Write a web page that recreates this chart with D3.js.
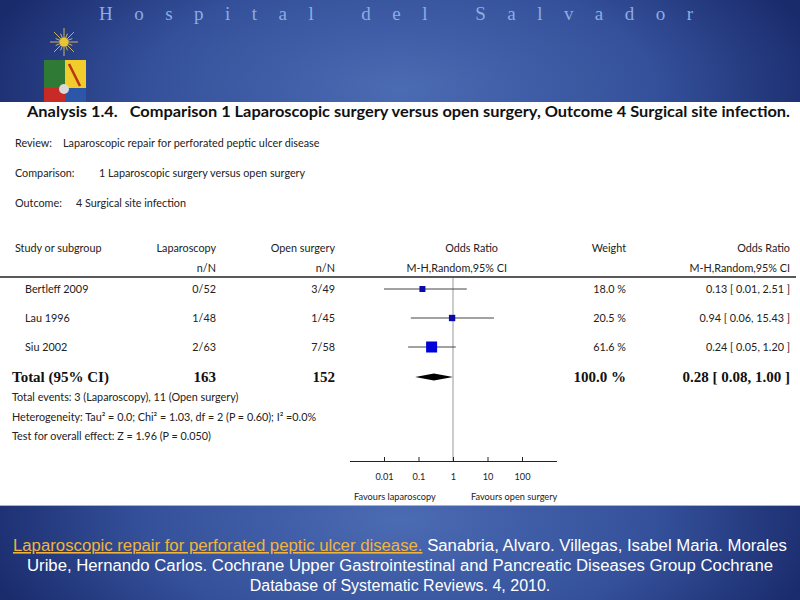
<!DOCTYPE html>
<html>
<head>
<meta charset="utf-8">
<script src="https://cdn.jsdelivr.net/npm/d3@7"></script>
<style>
body{margin:0;background:#fff}
svg{display:block}
.gs{font-family:Lato,"Open Sans",sans-serif;fill:#222}
.bold{font-family:"Liberation Serif","DejaVu Serif",serif;font-weight:bold;fill:#111}
</style>
</head>
<body>
<div id="chart"></div>
<script>
// data
var studies = ["Bertleff 2009","Lau 1996","Siu 2002"],
	lapEvents = ["0/52","1/48","2/63"],
	openEvents = ["3/49","1/45","7/58"],
	oddsRatio = [0.13,0.94,0.24],
	ciLow = [0.01,0.06,0.05],
	ciHigh = [2.51,15.43,1.20],
	weights = [18.0,20.5,61.6];

var total = {label:"Total (95% CI)", lap:"163", open:"152", weight:"100.0 %", or:0.28, lo:0.08, hi:1.00};
var tickVals = [0.01,0.1,1,10,100];
var notes = [
	"Total events: 3 (Laparoscopy), 11 (Open surgery)",
	"Heterogeneity: Tau\u00b2 = 0.0; Chi\u00b2 = 1.03, df = 2 (P = 0.60); I\u00b2 =0.0%",
	"Test for overall effect: Z = 1.96 (P = 0.050)"
];
var infoLabels = ["Review:","Comparison:","Outcome:"],
	infoTexts = ["Laparoscopic repair for perforated peptic ulcer disease","1 Laparoscopic surgery versus open surgery","4 Surgical site infection"];

var W = 800, H = 600, fs = "10.8px";

var svg = d3.select("#chart").append("svg").attr("width",W).attr("height",H);
var defs = svg.append("defs");

function grad(id,cy){
	var g = defs.append("radialGradient").attr("id",id)
		.attr("gradientUnits","userSpaceOnUse")
		.attr("cx",400).attr("cy",cy).attr("r",430)
		.attr("gradientTransform","translate(0,"+cy+") scale(1,0.45) translate(0,"+(-cy)+")");
	g.append("stop").attr("offset","0%").attr("stop-color","#4b6bb3");
	g.append("stop").attr("offset","60%").attr("stop-color","#34509a");
	g.append("stop").attr("offset","100%").attr("stop-color","#1a2b6c");
}
grad("topg",90);
grad("botg",520);

svg.append("rect").attr("width",W).attr("height",102).attr("fill","url(#topg)");
svg.append("rect").attr("y",505).attr("width",W).attr("height",95).attr("fill","url(#botg)");
svg.append("line").attr("x1",0).attr("x2",W).attr("y1",505.5).attr("y2",505.5).attr("stroke","#9fb4e0").attr("stroke-width",1);

// header
svg.append("text").attr("x",99).attr("y",20)
	.style("font-family","'Liberation Serif',serif").style("font-size","19px")
	.style("fill","#8eace4")
	.attr("textLength",594).attr("lengthAdjust","spacing")
	.text("Hospital del Salvador");

// logo
var logo = svg.append("g");
var sun = logo.append("g").attr("transform","translate(64,42)");
d3.range(16).forEach(function(i){
	var a = i*Math.PI/8, r = i%2 ? 9 : 14;
	sun.append("line").attr("x1",0).attr("y1",0)
		.attr("x2",r*Math.cos(a)).attr("y2",r*Math.sin(a))
		.attr("stroke","#c9b46a").attr("stroke-width",1);
});
sun.append("circle").attr("r",4.5).attr("fill","#e8c531");
logo.append("rect").attr("x",44).attr("y",60).attr("width",21).attr("height",28).attr("fill","#2f7a35");
logo.append("rect").attr("x",65).attr("y",60).attr("width",21).attr("height",28).attr("fill","#f1cc2b");
logo.append("rect").attr("x",44).attr("y",88).attr("width",21).attr("height",14).attr("fill","#c82a25");
logo.append("rect").attr("x",65).attr("y",88).attr("width",21).attr("height",14).attr("fill","#2c56a8");
logo.append("line").attr("x1",69).attr("y1",64).attr("x2",80).attr("y2",86).attr("stroke","#b8321e").attr("stroke-width",2.5);
logo.append("circle").attr("cx",64).attr("cy",89).attr("r",5).attr("fill","#d8d8d8");

// title
svg.append("text").attr("x",27).attr("y",117)
	.style("font-family","Lato,'Open Sans',sans-serif").style("font-weight","bold")
	.style("font-size","14.5px").style("fill","#111")
	.attr("textLength",763).attr("lengthAdjust","spacingAndGlyphs")
	.text("Analysis 1.4.\u00a0\u00a0\u00a0Comparison 1 Laparoscopic surgery versus open surgery, Outcome 4 Surgical site infection.");

// review info
var infoX = [63,99,76];
infoLabels.forEach(function(l,i){
	var y = 147 + i*30;
	svg.append("text").attr("class","gs").attr("x",15).attr("y",y).style("font-size",fs).text(l);
	svg.append("text").attr("class","gs").attr("x",infoX[i]).attr("y",y).style("font-size",fs).text(infoTexts[i]);
});

// column headers
var hdr = [
	{x:15,a:"start",t:["Study or subgroup",""]},
	{x:216,a:"end",t:["Laparoscopy","n/N"]},
	{x:335,a:"end",t:["Open surgery","n/N"]},
	{x:498,a:"end",t:["Odds Ratio","M-H,Random,95% CI"]},
	{x:626,a:"end",t:["Weight",""]},
	{x:790,a:"end",t:["Odds Ratio","M-H,Random,95% CI"]}
];
hdr.forEach(function(h,j){
	h.t.forEach(function(s,k){
		svg.append("text").attr("class","gs").attr("x",(j==3 && k==1) ? 507 : h.x).attr("y",252+k*20)
			.attr("text-anchor",h.a).style("font-size",fs).text(s);
	});
});
svg.append("line").attr("x1",0).attr("x2",796).attr("y1",277).attr("y2",277).attr("stroke","#222").attr("stroke-width",1.5);

// scales
var x = d3.scaleLog().domain([0.001,1000]).range([349.5,556.5]);
var rowY = d3.scalePoint().domain(studies).range([289,347]);
var side = d3.scaleSqrt().domain([0,61.6]).range([0,11]);

// reference line at OR = 1
svg.append("line").attr("x1",x(1)).attr("x2",x(1)).attr("y1",278).attr("y2",461)
	.attr("stroke","#aaa").attr("stroke-width",1.2);

var rows = svg.selectAll(".row").data(studies).enter().append("g").attr("class","row")
	.attr("transform",function(d){return "translate(0,"+rowY(d)+")";});

rows.append("text").attr("class","gs").attr("x",25).attr("dy","0.35em").style("font-size",fs).text(function(d){return d;});
rows.append("text").attr("class","gs").attr("x",216).attr("dy","0.35em").attr("text-anchor","end").style("font-size",fs).text(function(d,i){return lapEvents[i];});
rows.append("text").attr("class","gs").attr("x",335).attr("dy","0.35em").attr("text-anchor","end").style("font-size",fs).text(function(d,i){return openEvents[i];});
rows.append("line").attr("x1",function(d,i){return x(ciLow[i]);}).attr("x2",function(d,i){return x(ciHigh[i]);})
	.attr("stroke","#444").attr("stroke-width",1);
rows.append("rect")
	.attr("x",function(d,i){return x(oddsRatio[i]) - Math.max(side(weights[i]),6)/2;})
	.attr("y",function(d,i){return -Math.max(side(weights[i]),6)/2;})
	.attr("width",function(d,i){return Math.max(side(weights[i]),6);})
	.attr("height",function(d,i){return Math.max(side(weights[i]),6);})
	.attr("fill",function(d,i){return i==2 ? "#0000d8" : "#0a0aa8";});
rows.append("text").attr("class","gs").attr("x",626).attr("dy","0.35em").attr("text-anchor","end").style("font-size",fs)
	.text(function(d,i){return weights[i].toFixed(1)+" %";});
rows.append("text").attr("class","gs").attr("x",790).attr("dy","0.35em").attr("text-anchor","end").style("font-size",fs)
	.text(function(d,i){return oddsRatio[i].toFixed(2)+" [ "+ciLow[i].toFixed(2)+", "+ciHigh[i].toFixed(2)+" ]";});

// total row
var ty = 377;
var tg = svg.append("g").attr("transform","translate(0,"+ty+")");
tg.append("text").attr("class","bold").attr("x",12).attr("dy","0.35em").style("font-size","15px").text(total.label);
tg.append("text").attr("class","bold").attr("x",216).attr("dy","0.35em").attr("text-anchor","end").style("font-size","15px").text(total.lap);
tg.append("text").attr("class","bold").attr("x",335).attr("dy","0.35em").attr("text-anchor","end").style("font-size","15px").text(total.open);
tg.append("text").attr("class","bold").attr("x",626).attr("dy","0.35em").attr("text-anchor","end").style("font-size","15px").text(total.weight);
tg.append("text").attr("class","bold").attr("x",790).attr("dy","0.35em").attr("text-anchor","end").style("font-size","15px")
	.text(total.or.toFixed(2)+" [ "+total.lo.toFixed(2)+", "+total.hi.toFixed(2)+" ]");
tg.append("path")
	.attr("d","M"+x(total.lo)+",0L"+x(total.or)+",-3.5L"+x(total.hi)+",0L"+x(total.or)+",3.5Z")
	.attr("fill","#000");

// notes
notes.forEach(function(n,i){
	svg.append("text").attr("class","gs").attr("x",12).attr("y",401+i*19.5).style("font-size",fs).text(n);
});

// axis
var axis = d3.axisBottom(x).tickValues(tickVals).tickSizeInner(-4).tickSizeOuter(0).tickPadding(12)
	.tickFormat(function(d){return d >= 1 ? d3.format("d")(d) : String(d);});
var ax = svg.append("g").attr("transform","translate(0,461)").call(axis);
ax.select(".domain").attr("stroke","#222").attr("stroke-width",1.2);
ax.selectAll(".tick line").attr("stroke","#222");
ax.selectAll(".tick text").attr("class","gs").style("font-size","9.2px").style("font-family","Lato,sans-serif").attr("fill","#222");

svg.append("text").attr("class","gs").attr("x",354).attr("y",500).style("font-size","9.2px").text("Favours laparoscopy");
svg.append("text").attr("class","gs").attr("x",471).attr("y",500).style("font-size","9.2px").text("Favours open surgery");

// footer citation
var ff = "'Liberation Sans',Arial,sans-serif";
var l1 = svg.append("text").attr("x",400).attr("y",551).attr("text-anchor","middle")
	.style("font-family",ff).style("font-size","16px").attr("textLength",774).attr("lengthAdjust","spacingAndGlyphs");
l1.append("tspan").attr("fill","#f0b43c").style("text-decoration","underline").text("Laparoscopic repair for perforated peptic ulcer disease.");
l1.append("tspan").attr("fill","#fff").text(" Sanabria, Alvaro. Villegas, Isabel Maria. Morales");
svg.append("text").attr("x",400).attr("y",571).attr("text-anchor","middle").attr("fill","#fff")
	.style("font-family",ff).style("font-size","16px").attr("textLength",746).attr("lengthAdjust","spacingAndGlyphs")
	.text("Uribe, Hernando Carlos. Cochrane Upper Gastrointestinal and Pancreatic Diseases Group Cochrane");
svg.append("text").attr("x",400).attr("y",591).attr("text-anchor","middle").attr("fill","#fff")
	.style("font-family",ff).style("font-size","16px")
	.text("Database of Systematic Reviews. 4, 2010.");
</script>
</body>
</html>
